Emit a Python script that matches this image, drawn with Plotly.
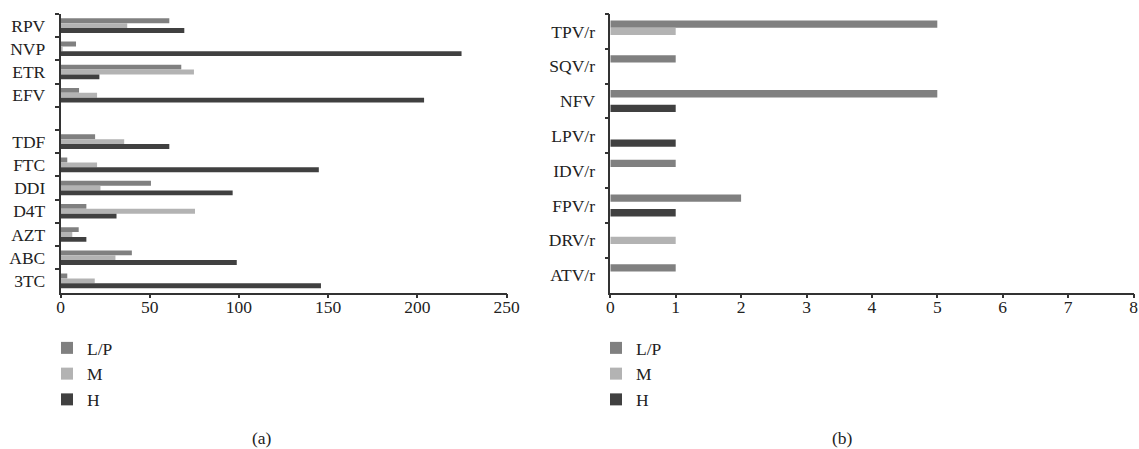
import plotly.graph_objects as go

# Panel (a)
drugs_a = ["RPV", "NVP", "ETR", "EFV", " ", "TDF", "FTC", "DDI", "D4T", "AZT", "ABC", "3TC"]
lp_a = [61, 8.7, 67.7, 10.4, None, 19.4, 3.8, 50.7, 14.5, 10.2, 40, 3.8]
m_a = [37.4, 1.2, 74.8, 20.5, None, 35.7, 20.5, 22.4, 75.4, 6.6, 30.8, 19.2]
h_a = [69.4, 224.8, 21.8, 203.8, None, 61, 144.8, 96.5, 31.4, 14.5, 98.8, 146]

# Panel (b)
drugs_b = ["TPV/r", "SQV/r", "NFV", "LPV/r", "IDV/r", "FPV/r", "DRV/r", "ATV/r"]
lp_b = [5, 1, 5, 0, 1, 2, 0, 1]
m_b = [1, 0, 0, 0, 0, 0, 1, 0]
h_b = [0, 0, 1, 1, 0, 1, 0, 0]

series_names = ["L/P", "M", "H"]
colors = ["#808080", "#b3b3b3", "#404040"]

FONT = "Liberation Serif"
FS = 17.5

W, H = 1139, 449


def px_x(x):
    return x / W


def px_y(y):
    return 1 - y / H


fig = go.Figure()
for name, vals, col in zip(series_names, [lp_a, m_a, h_a], colors):
    fig.add_trace(go.Bar(y=drugs_a, x=vals, name=name, orientation="h",
                         marker=dict(color=col, line=dict(width=0)),
                         xaxis="x", yaxis="y", legend="legend"))
for name, vals, col in zip(series_names, [lp_b, m_b, h_b], colors):
    fig.add_trace(go.Bar(y=drugs_b, x=vals, name=name, orientation="h",
                         marker=dict(color=col, line=dict(width=0)),
                         xaxis="x2", yaxis="y2", legend="legend2"))

axis_common = dict(showline=True, linecolor="#333333", linewidth=1.5,
                   ticks="outside", ticklen=4, tickcolor="#333333", tickwidth=1.5,
                   showgrid=False, zeroline=False,
                   tickfont=dict(family=FONT, size=FS, color="#222222"))

fig.update_layout(
    width=W, height=H,
    margin=dict(l=0, r=0, t=0, b=0),
    paper_bgcolor="white", plot_bgcolor="white",
    hovermode=False,
    barmode="group", bargap=0.37, bargroupgap=0.0,
    font=dict(family=FONT, size=FS, color="#222222"),
    xaxis=dict(domain=[px_x(60.5), px_x(506.5)], range=[0, 250],
               tickvals=[0, 50, 100, 150, 200, 250], ticklabelstandoff=-6,
               anchor="y", automargin=False, **axis_common),
    yaxis=dict(domain=[px_y(292.5), px_y(14)], categoryorder="array", categoryarray=drugs_a,
               autorange="reversed", tickson="boundaries", anchor="x", automargin=False,
               ticklabelstandoff=10, **axis_common),
    xaxis2=dict(domain=[px_x(610.3), px_x(1133.5)], range=[0, 8], dtick=1,
                ticklabelstandoff=-6, anchor="y2", automargin=False, **axis_common),
    yaxis2=dict(domain=[px_y(292.5), px_y(14)], categoryorder="array", categoryarray=drugs_b,
                autorange="reversed", tickson="boundaries", anchor="x2", automargin=False,
                ticklabelstandoff=10, **axis_common),
    legend=dict(x=px_x(47), y=px_y(330), xanchor="left", yanchor="top",
                font=dict(family=FONT, size=FS, color="#222222"),
                bgcolor="rgba(0,0,0,0)"),
    legend2=dict(x=px_x(596), y=px_y(330), xanchor="left", yanchor="top",
                 font=dict(family=FONT, size=FS, color="#222222"),
                 bgcolor="rgba(0,0,0,0)"),
    annotations=[
        dict(text="(a)", x=px_x(262), y=px_y(438), xref="paper", yref="paper",
             xanchor="center", yanchor="middle",
             showarrow=False, font=dict(family=FONT, size=FS, color="#222222")),
        dict(text="(b)", x=px_x(842), y=px_y(438), xref="paper", yref="paper",
             xanchor="center", yanchor="middle",
             showarrow=False, font=dict(family=FONT, size=FS, color="#222222")),
    ],
)

fig.write_html("out.html", config={"displayModeBar": False},
               post_script="document.body.style.margin='0';document.body.style.overflow='hidden';")
